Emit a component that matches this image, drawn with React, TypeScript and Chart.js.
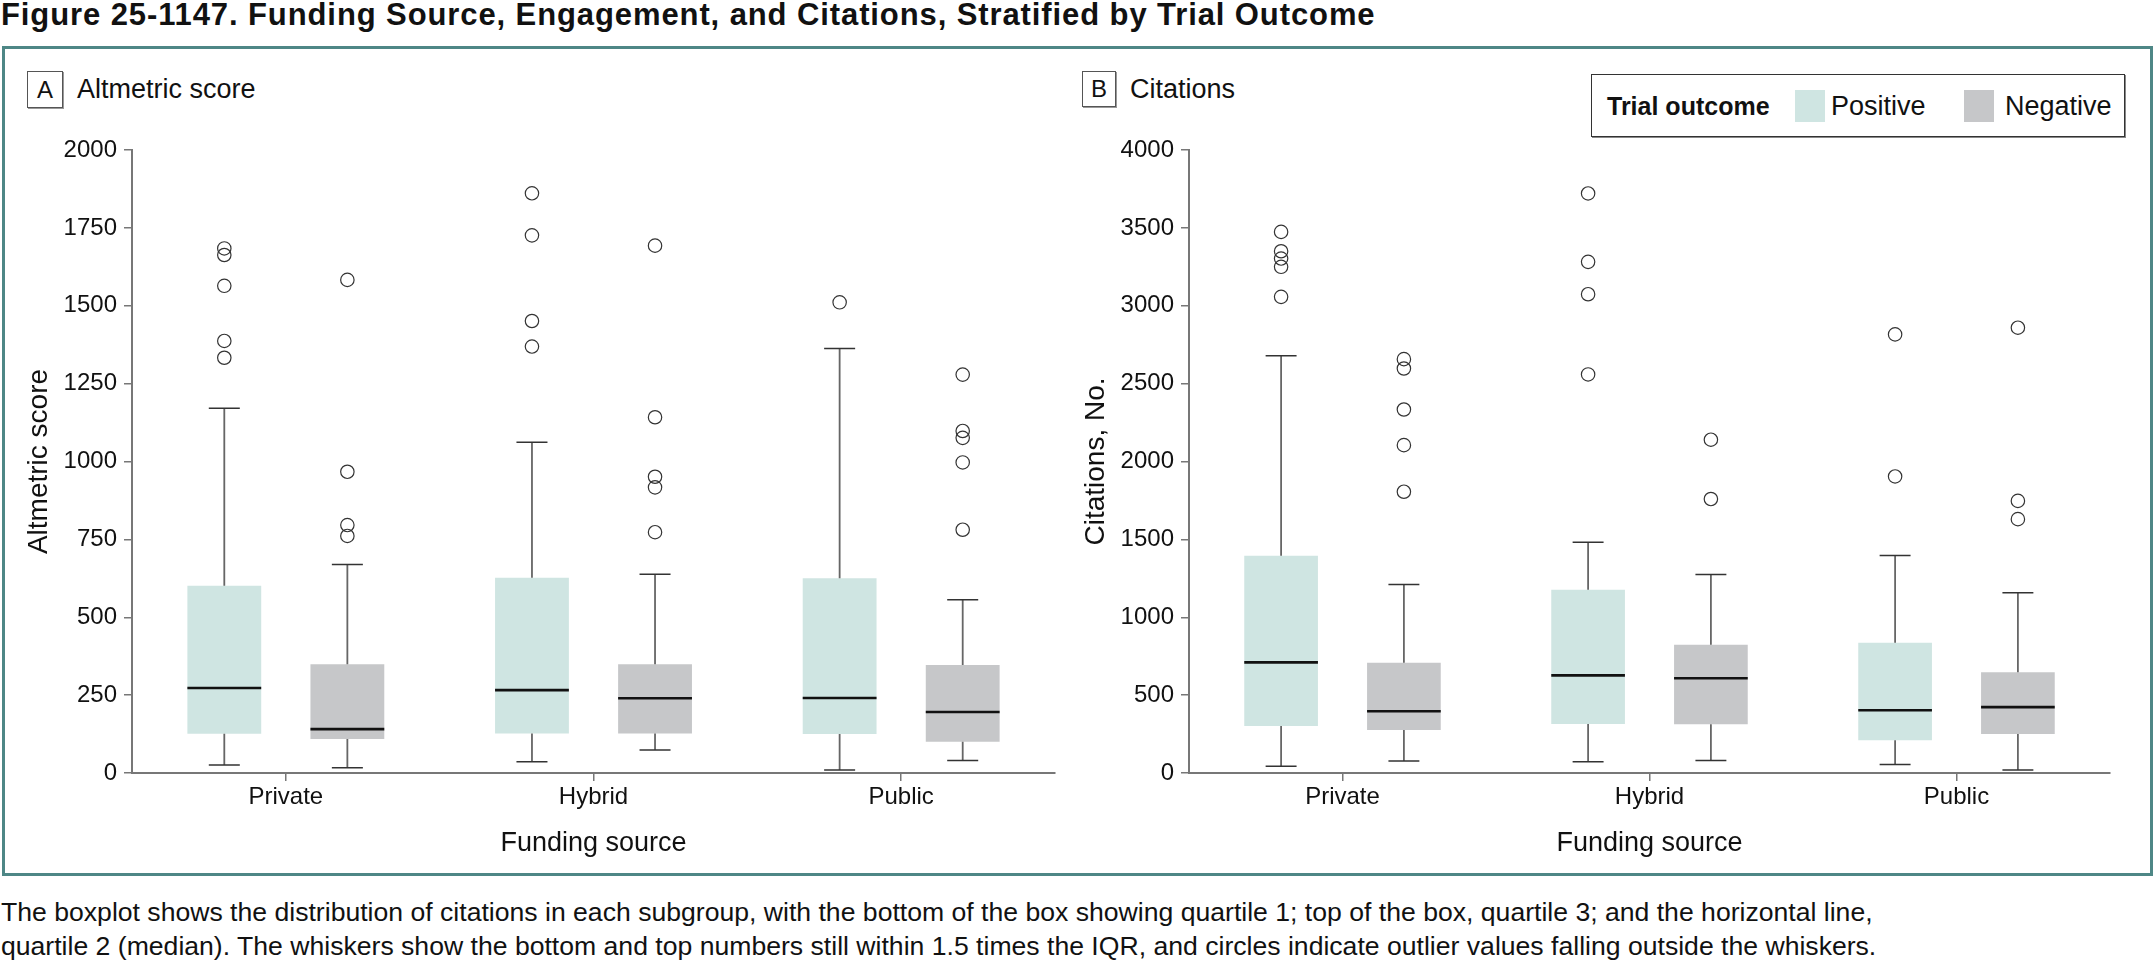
import React, { useEffect, useRef } from "react";
import { Chart, registerables } from "chart.js";

Chart.register(...registerables);

const FONT = "'Liberation Sans', Arial, Helvetica, sans-serif";

const CATEGORIES = ["Private", "Hybrid", "Public"];
const SERIES = ["Positive", "Negative"];

// Each box: [min whisker, Q1, median, Q3, max whisker]
const ALTMETRIC_POSITIVE = [
  [26, 126, 273, 601, 1171],
  [36, 127, 266, 627, 1062],
  [10, 125, 241, 625, 1363],
];
const ALTMETRIC_NEGATIVE = [
  [17, 109, 141, 349, 669],
  [74, 127, 240, 349, 638],
  [40, 100, 196, 347, 556],
];
const ALTMETRIC_POSITIVE_OUTLIERS = [
  [1333, 1387, 1564, 1663, 1684],
  [1369, 1451, 1726, 1861],
  [1511],
];
const ALTMETRIC_NEGATIVE_OUTLIERS = [
  [761, 796, 967, 1583],
  [773, 917, 951, 1142, 1693],
  [781, 997, 1076, 1098, 1279],
];

const CITATIONS_POSITIVE = [
  [43, 302, 710, 1395, 2679],
  [73, 315, 627, 1177, 1481],
  [54, 211, 403, 836, 1397],
];
const CITATIONS_NEGATIVE = [
  [77, 276, 396, 708, 1211],
  [81, 313, 608, 823, 1275],
  [19, 250, 423, 647, 1158],
];
const CITATIONS_POSITIVE_OUTLIERS = [
  [3057, 3250, 3303, 3350, 3474],
  [2559, 3074, 3282, 3721],
  [1904, 2816],
];
const CITATIONS_NEGATIVE_OUTLIERS = [
  [1806, 2105, 2334, 2597, 2657],
  [1759, 2140],
  [1630, 1747, 2859],
];

const ALTMETRIC_Y_TICKS = [0, 250, 500, 750, 1000, 1250, 1500, 1750, 2000];
const CITATIONS_Y_TICKS = [0, 500, 1000, 1500, 2000, 2500, 3000, 3500, 4000];

const POS_COLOR = "#cfe5e2";
const NEG_COLOR = "#c6c7c9";
const AXIS_COLOR = "#777777";
const TEXT_COLOR = "#111111";

function boxplotPlugin(stats: number[][][], outliers: number[][][]) {
  return {
    id: "boxplotExtras",
    afterDatasetsDraw(chart: any) {
      const ctx = chart.ctx;
      const y = chart.scales.y;
      stats.forEach((series, di) => {
        const meta = chart.getDatasetMeta(di);
        series.forEach((s, i) => {
          const el = meta.data[i];
          if (!el) return;
          const { x, width } = el.getProps(["x", "width"], true);
          const [mn, q1, md, q3, mx] = s;
          const pMin = y.getPixelForValue(mn);
          const pQ1 = y.getPixelForValue(q1);
          const pMd = y.getPixelForValue(md);
          const pQ3 = y.getPixelForValue(q3);
          const pMax = y.getPixelForValue(mx);
          ctx.save();
          ctx.strokeStyle = "#666666";
          ctx.lineWidth = 1.8;
          ctx.beginPath();
          ctx.moveTo(x, pQ3);
          ctx.lineTo(x, pMax);
          ctx.moveTo(x, pQ1);
          ctx.lineTo(x, pMin);
          ctx.stroke();
          const cw = width * 0.21;
          ctx.strokeStyle = "#333333";
          ctx.lineWidth = 1.5;
          ctx.beginPath();
          ctx.moveTo(x - cw, pMax);
          ctx.lineTo(x + cw, pMax);
          ctx.moveTo(x - cw, pMin);
          ctx.lineTo(x + cw, pMin);
          ctx.stroke();
          ctx.strokeStyle = "#111111";
          ctx.lineWidth = 2.6;
          ctx.beginPath();
          ctx.moveTo(x - width / 2, pMd);
          ctx.lineTo(x + width / 2, pMd);
          ctx.stroke();
          ctx.strokeStyle = "#333333";
          ctx.lineWidth = 1.2;
          (outliers[di][i] || []).forEach((v) => {
            ctx.beginPath();
            ctx.arc(x, y.getPixelForValue(v), 6.7, 0, Math.PI * 2);
            ctx.stroke();
          });
          ctx.restore();
        });
      });
    },
  };
}

interface BoxChartProps {
  left: number;
  width: number;
  height: number;
  pos: number[][];
  neg: number[][];
  posOut: number[][];
  negOut: number[][];
  yTicks: number[];
  yTitle: string;
  padLeft: number;
  padRight: number;
  yWidth: number;
  yTitlePad: number;
}

function BoxChart(p: BoxChartProps) {
  const ref = useRef<HTMLCanvasElement>(null);
  useEffect(() => {
    if (!ref.current) return;
    const chartBottom = 773;
    const padBottom = 10;
    const xHeight = p.height - padBottom - chartBottom;
    const chart = new Chart(ref.current, {
      type: "bar",
      data: {
        labels: CATEGORIES,
        datasets: [
          {
            label: SERIES[0],
            data: p.pos.map((s) => [s[1], s[3]]) as any,
            backgroundColor: POS_COLOR,
            borderWidth: 0,
            categoryPercentage: 0.8,
            barPercentage: 0.6,
          },
          {
            label: SERIES[1],
            data: p.neg.map((s) => [s[1], s[3]]) as any,
            backgroundColor: NEG_COLOR,
            borderWidth: 0,
            categoryPercentage: 0.8,
            barPercentage: 0.6,
          },
        ],
      },
      options: {
        animation: false,
        responsive: false,
        maintainAspectRatio: false,
        layout: {
          padding: { left: p.padLeft, right: p.padRight, top: 150, bottom: padBottom },
        },
        plugins: {
          legend: { display: false },
          tooltip: { enabled: false },
        },
        scales: {
          x: {
            type: "category",
            offset: true,
            grid: {
              display: true,
              drawOnChartArea: false,
              drawTicks: true,
              tickLength: 8,
              offset: false,
              color: AXIS_COLOR,
              lineWidth: 1.5,
            },
            border: { display: true, color: AXIS_COLOR, width: 2 },
            ticks: { color: TEXT_COLOR, font: { family: FONT, size: 24 }, padding: 2 },
            title: {
              display: true,
              text: "Funding source",
              color: TEXT_COLOR,
              font: { family: FONT, size: 27 },
              padding: { top: 0, bottom: 10 },
            },
            afterFit: (s: any) => {
              s.height = xHeight;
            },
          },
          y: {
            type: "linear",
            min: p.yTicks[0],
            max: p.yTicks[p.yTicks.length - 1],
            grid: {
              display: true,
              drawOnChartArea: false,
              drawTicks: true,
              tickLength: 8,
              color: AXIS_COLOR,
              lineWidth: 1.5,
            },
            border: { display: true, color: AXIS_COLOR, width: 2 },
            ticks: {
              color: TEXT_COLOR,
              font: { family: FONT, size: 24 },
              padding: 7,
              callback: (v: any) => String(v),
            },
            afterBuildTicks: (s: any) => {
              s.ticks = p.yTicks.map((v) => ({ value: v }));
            },
            title: {
              display: true,
              text: p.yTitle,
              color: TEXT_COLOR,
              font: { family: FONT, size: 28 },
              padding: { top: p.yTitlePad, bottom: 0 },
            },
            afterFit: (s: any) => {
              s.width = p.yWidth;
            },
          },
        },
      },
      plugins: [boxplotPlugin([p.pos, p.neg], [p.posOut, p.negOut])],
    } as any);
    return () => chart.destroy();
  }, []);
  return (
    <canvas
      ref={ref}
      width={p.width}
      height={p.height}
      style={{ position: "absolute", left: p.left, top: 0, width: p.width, height: p.height }}
    />
  );
}

const labelBox: React.CSSProperties = {
  position: "absolute",
  border: "1px solid #555",
  boxSizing: "border-box",
  fontSize: 24,
  textAlign: "center",
  color: TEXT_COLOR,
  boxShadow: "1px 1px 0 #999",
};

export default function App() {
  return (
    <div
      style={{
        position: "absolute",
        left: 0,
        top: 0,
        width: 2155,
        height: 960,
        background: "#ffffff",
        fontFamily: FONT,
        color: TEXT_COLOR,
        overflow: "hidden",
      }}
    >
      <div
        style={{
          position: "absolute",
          left: 1,
          top: 0,
          fontSize: 31,
          lineHeight: "29px",
          letterSpacing: "0.9px",
          fontWeight: "bold",
          whiteSpace: "nowrap",
        }}
      >
        Figure 25-1147. Funding Source, Engagement, and Citations, Stratified by Trial Outcome
      </div>
      <div
        style={{
          position: "absolute",
          left: 2,
          top: 46,
          width: 2151,
          height: 830,
          border: "3px solid #4e8786",
          boxSizing: "border-box",
        }}
      />
      <div style={{ ...labelBox, left: 27, top: 71, width: 36, height: 37, lineHeight: "35px" }}>A</div>
      <div style={{ position: "absolute", left: 77, top: 71, fontSize: 27, lineHeight: "37px", whiteSpace: "nowrap" }}>
        Altmetric score
      </div>
      <div style={{ ...labelBox, left: 1082, top: 71, width: 34, height: 36, lineHeight: "34px" }}>B</div>
      <div style={{ position: "absolute", left: 1130, top: 71, fontSize: 27, lineHeight: "37px", whiteSpace: "nowrap" }}>
        Citations
      </div>

      <div
        style={{
          position: "absolute",
          left: 1591,
          top: 74,
          width: 534,
          height: 63,
          border: "1px solid #333",
          boxSizing: "border-box",
          boxShadow: "1px 1px 0 #888",
        }}
      >
        <div style={{ position: "absolute", left: 15, top: 15, fontSize: 25, lineHeight: "32px", fontWeight: "bold", whiteSpace: "nowrap" }}>
          Trial outcome
        </div>
        <div style={{ position: "absolute", left: 203, top: 15, width: 30, height: 32, background: POS_COLOR }} />
        <div style={{ position: "absolute", left: 239, top: 15, fontSize: 27, lineHeight: "32px", whiteSpace: "nowrap" }}>
          {SERIES[0]}
        </div>
        <div style={{ position: "absolute", left: 372, top: 15, width: 30, height: 32, background: NEG_COLOR }} />
        <div style={{ position: "absolute", left: 413, top: 15, fontSize: 27, lineHeight: "32px", whiteSpace: "nowrap" }}>
          {SERIES[1]}
        </div>
      </div>

      <BoxChart
        left={0}
        width={1075}
        height={880}
        pos={ALTMETRIC_POSITIVE}
        neg={ALTMETRIC_NEGATIVE}
        posOut={ALTMETRIC_POSITIVE_OUTLIERS}
        negOut={ALTMETRIC_NEGATIVE_OUTLIERS}
        yTicks={ALTMETRIC_Y_TICKS}
        yTitle="Altmetric score"
        padLeft={10}
        padRight={20}
        yWidth={122}
        yTitlePad={12}
      />
      <BoxChart
        left={1075}
        width={1075}
        height={880}
        pos={CITATIONS_POSITIVE}
        neg={CITATIONS_NEGATIVE}
        posOut={CITATIONS_POSITIVE_OUTLIERS}
        negOut={CITATIONS_NEGATIVE_OUTLIERS}
        yTicks={CITATIONS_Y_TICKS}
        yTitle="Citations, No."
        padLeft={0}
        padRight={40}
        yWidth={114}
        yTitlePad={4}
      />

      <div
        style={{
          position: "absolute",
          left: 1,
          top: 895,
          fontSize: 26.6,
          lineHeight: "34px",
          whiteSpace: "nowrap",
        }}
      >
        The boxplot shows the distribution of citations in each subgroup, with the bottom of the box showing quartile 1; top of the box, quartile 3; and the horizontal line,
        <br />
        quartile 2 (median). The whiskers show the bottom and top numbers still within 1.5 times the IQR, and circles indicate outlier values falling outside the whiskers.
      </div>
    </div>
  );
}
